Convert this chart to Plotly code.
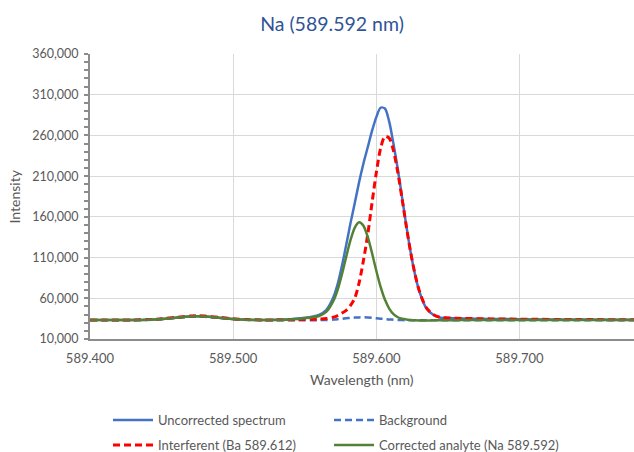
import plotly.graph_objects as go

wavelength = [589.400, 589.410, 589.420, 589.430, 589.440, 589.450, 589.460, 589.470, 589.475, 589.480,
              589.490, 589.500, 589.510, 589.520, 589.530, 589.540, 589.545, 589.550, 589.555, 589.560,
              589.565, 589.570, 589.573, 589.576, 589.579, 589.582, 589.585, 589.588, 589.591, 589.594,
              589.597, 589.600, 589.603, 589.606, 589.609, 589.612, 589.615, 589.618, 589.621, 589.624,
              589.627, 589.630, 589.635, 589.640, 589.645, 589.650, 589.660, 589.680, 589.700, 589.740,
              589.780]

uncorrected = [33300, 33300, 33300, 33400, 33700, 34600, 36200, 37600, 37800, 37600,
               36200, 34600, 33700, 33400, 33500, 34400, 35100, 36100, 37350, 39660,
               45500, 61200, 77300, 99900, 125600, 152600, 177200, 202850, 225600, 245500,
               265500, 282500, 294000, 293000, 277000, 249500, 218500, 183800, 148600, 116400,
               89500, 68900, 47700, 39400, 36200, 35700, 35200, 34700, 34300, 33900,
               33700]

background = [33000, 33000, 33000, 33100, 33400, 34300, 35900, 37300, 37500, 37300,
              35900, 34300, 33400, 33100, 33000, 33000, 33000, 33000, 33050, 33150,
              33400, 33900, 34300, 34800, 35400, 35900, 36300, 36550, 36600, 36400,
              36000, 35500, 35000, 34500, 34000, 33700, 33400, 33200, 33100, 33000,
              33000, 33000, 33000, 33000, 33000, 33000, 33000, 33000, 33000, 33000,
              33000]

interferent = [33300, 33300, 33300, 33400, 33800, 34800, 36600, 38200, 38500, 38200,
               36600, 34800, 33800, 33400, 33500, 33700, 33800, 33900, 34100, 34500,
               35100, 36800, 38800, 41800, 45300, 51300, 60300, 79300, 106300, 138300,
               177300, 214300, 244300, 258800, 256700, 241000, 214700, 182100, 147900, 116300,
               89800, 69400, 48200, 39800, 36500, 35900, 35300, 34700, 34300, 33900,
               33700]

corrected = [33300, 33300, 33300, 33400, 33700, 34600, 36200, 37600, 37800, 37600,
             36200, 34600, 33700, 33400, 33300, 34000, 34600, 35500, 36500, 38300,
             43300, 56800, 70500, 89600, 111200, 131700, 146900, 153300, 149000, 135300,
             115500, 93800, 74000, 58400, 47400, 40500, 36700, 34800, 33900, 33400,
             33000, 32800, 32800, 32900, 33000, 33100, 33200, 33300, 33300, 33300,
             33300]

x_ticks = [589.4, 589.5, 589.6, 589.7]
x_tick_labels = ["589.400", "589.500", "589.600", "589.700"]

series_names = ["Uncorrected spectrum", "Background",
                "Interferent (Ba 589.612)", "Corrected analyte (Na 589.592)"]

FONT = "Lato, 'Open Sans', sans-serif"
GREY = "#595959"
AXIS = "#8C8C8C"
W, H = 634, 452

fig = go.Figure()
fig.add_trace(go.Scatter(x=wavelength, y=uncorrected, name=series_names[0], mode="lines",
                         line=dict(color="#4472C4", width=2.5, shape="spline", smoothing=0.8),
                         legend="legend", showlegend=True))
fig.add_trace(go.Scatter(x=wavelength, y=background, name=series_names[1], mode="lines",
                         line=dict(color="#4472C4", width=2.5, dash="7px,4px", shape="spline", smoothing=0.8),
                         legend="legend2", showlegend=True))
fig.add_trace(go.Scatter(x=wavelength, y=interferent, name=series_names[2], mode="lines",
                         line=dict(color="#FF0000", width=3, dash="7px,4px", shape="spline", smoothing=0.8),
                         legend="legend3", showlegend=True))
fig.add_trace(go.Scatter(x=wavelength, y=corrected, name=series_names[3], mode="lines",
                         line=dict(color="#548235", width=2.5, shape="spline", smoothing=0.8),
                         legend="legend4", showlegend=True))

legend_common = dict(orientation="v", xanchor="left", yanchor="middle",
                     xref="container", yref="container", bgcolor="rgba(0,0,0,0)",
                     font=dict(family=FONT, size=13, color=GREY), itemwidth=40, visible=True)
col_x = [108 / W, 329 / W]
row_y = [1 - 420 / H, 1 - 445 / H]

fig.update_layout(
    width=W, height=H, showlegend=True,
    margin=dict(l=90, r=0, t=54, b=113, autoexpand=False),
    paper_bgcolor="white", plot_bgcolor="white",
    title=dict(text="Na (589.592 nm)", x=332 / W, xanchor="center", xref="container",
               y=1 - 24 / H, yanchor="middle", yref="container",
               font=dict(family=FONT, size=19.5, color="#2F5597")),
    legend=dict(x=col_x[0], y=row_y[0], **legend_common),
    legend2=dict(x=col_x[1], y=row_y[0], **legend_common),
    legend3=dict(x=col_x[0], y=row_y[1], **legend_common),
    legend4=dict(x=col_x[1], y=row_y[1], **legend_common),
    xaxis=dict(range=[589.4, 589.78], tickvals=x_ticks, ticktext=x_tick_labels,
               showgrid=True, gridcolor="#D9D9D9", gridwidth=1,
               showline=True, linecolor=AXIS, linewidth=2, ticks="", zeroline=False,
               automargin=False, ticklabelstandoff=6,
               tickfont=dict(family=FONT, size=13, color=GREY)),
    yaxis=dict(range=[10000, 360000], tick0=10000, dtick=50000, tickformat=",",
               showgrid=True, gridcolor="#D9D9D9", gridwidth=1,
               showline=True, linecolor=AXIS, linewidth=2, zeroline=False,
               ticks="outside", ticklen=4, tickwidth=1.5, tickcolor=AXIS,
               automargin=False, ticklabelstandoff=3,
               minor=dict(ticks="outside", dtick=10000, tick0=10000, ticklen=4,
                          tickwidth=1.5, tickcolor=AXIS, showgrid=False),
               tickfont=dict(family=FONT, size=12.5, color=GREY)),
    annotations=[
        dict(text="Intensity", x=(14 - 90) / 544, xref="paper", y=0.5, yref="paper", showarrow=False,
             textangle=-90, xanchor="center", yanchor="middle",
             font=dict(family=FONT, size=14, color=GREY)),
        dict(text="Wavelength (nm)", x=0.5, xref="paper", y=(339 - 379) / 285, yref="paper",
             showarrow=False, xanchor="center", yanchor="middle",
             font=dict(family=FONT, size=14, color=GREY)),
    ],
)

fig.write_html("out.html", config={"displayModeBar": False},
               post_script="document.body.style.margin='0';document.body.style.overflow='hidden';")
